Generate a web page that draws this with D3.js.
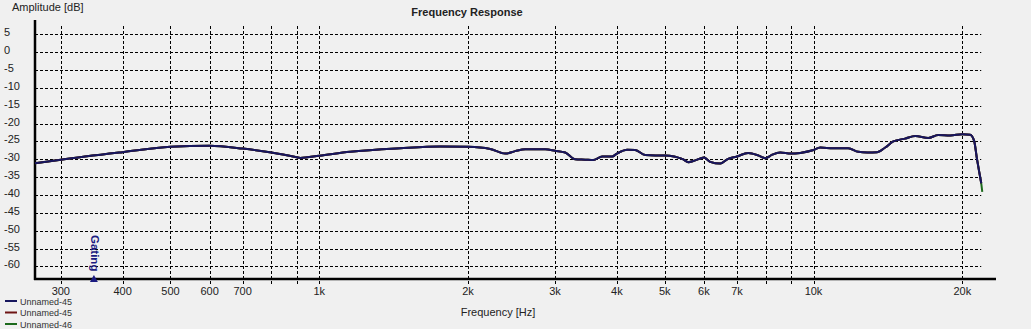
<!DOCTYPE html>
<html>
<head>
<meta charset="utf-8">
<script src="https://cdn.jsdelivr.net/npm/d3@7"></script>
<style>
  body { margin: 0; background: #f0f0f0; }
  text { font-family: "Liberation Sans", Arial, sans-serif; fill: #222; }
</style>
</head>
<body>
<div id="chart"></div>
<script>
// frequency response, values
const freqs = [266, 300, 400, 500, 600, 700, 800, 900, 915, 1000, 1155, 1458, 1757, 2000, 2218, 2378, 2492, 2611, 2866, 3000,
  3145, 3295, 3452, 3583, 3736, 3915, 4000, 4200, 4358, 4566, 4784, 5000, 5251, 5451, 5579, 5764, 6000, 6180, 6476, 6689,
  7000, 7376, 7730, 7986, 8250, 8562, 9000, 9399, 10000, 10318, 10962, 11755, 12318, 12845, 13457, 13968, 14500, 15330, 16063, 17070,
  17880, 18910, 20000, 20750, 21140, 21410, 21640, 21845];
const dbMain = [-31.1, -30.1, -28.0, -26.5, -26.2, -27.0, -28.1, -29.4, -29.6, -29.0, -27.9, -26.9, -26.4, -26.5, -27.1, -28.4, -27.7, -27.2, -27.2, -27.6,
  -28.1, -30.0, -30.1, -30.2, -29.2, -29.2, -28.4, -27.3, -27.4, -28.8, -28.9, -28.9, -29.3, -30.0, -30.8, -30.3, -29.5, -30.7, -31.2, -30.0,
  -29.2, -28.2, -28.9, -29.7, -28.7, -28.1, -28.4, -28.2, -27.4, -26.7, -26.9, -26.9, -27.9, -28.1, -28.0, -26.7, -25.0, -24.2, -23.5, -24.0,
  -23.2, -23.3, -23.0, -23.1, -24.9, -29.8, -33.5, -36.7];
// the other two traces sit under the first one, only the green tail shows
const tailFreqs = [21950];
const tailDb = [-39.1];

const seriesNames = ["Unnamed-45", "Unnamed-45", "Unnamed-46"];
const seriesColors = ["#16165e", "#6e1414", "#1c6a1c"];

const yTicks = [5, 0, -5, -10, -15, -20, -25, -30, -35, -40, -45, -50, -55, -60];
const xGrid = [300, 400, 500, 600, 700, 800, 900, 1000, 2000, 3000, 4000, 5000, 6000, 7000, 8000, 9000, 10000, 20000];
const xLabels = [300, 400, 500, 600, 700, 1000, 2000, 3000, 4000, 5000, 6000, 7000, 10000, 20000];
const gatingFreq = 350;

const width = 1031, height = 329;

const svg = d3.select("#chart").append("svg")
  .attr("width", width)
  .attr("height", height);

const x = d3.scaleLog().domain([266, 23400]).range([35, 996]);
const y = d3.scaleLinear().domain([-63.5, 9]).range([279, 20]);

const gridRight = x(21845);

// grid
svg.append("g").selectAll("line")
  .data(yTicks)
  .enter().append("line")
  .attr("x1", 35).attr("x2", gridRight)
  .attr("y1", d => Math.round(y(d)) + 0.5).attr("y2", d => Math.round(y(d)) + 0.5)
  .attr("stroke", "#000").attr("stroke-width", 1).attr("stroke-dasharray", "3,2");

svg.append("g").selectAll("line")
  .data(xGrid)
  .enter().append("line")
  .attr("x1", d => Math.round(x(d)) + 0.5).attr("x2", d => Math.round(x(d)) + 0.5)
  .attr("y1", 26).attr("y2", 284)
  .attr("stroke", "#000").attr("stroke-width", 1).attr("stroke-dasharray", "3,2");

// axes lines
svg.append("line").attr("x1", 35).attr("x2", 35).attr("y1", 20).attr("y2", 280)
  .attr("stroke", "#000").attr("stroke-width", 2.5);
svg.append("line").attr("x1", 34).attr("x2", 996).attr("y1", 279).attr("y2", 279)
  .attr("stroke", "#000").attr("stroke-width", 2.5);

// tick labels
svg.append("g").selectAll("text")
  .data(yTicks)
  .enter().append("text")
  .attr("x", 4).attr("y", d => y(d) + 2)
  .attr("font-size", 11)
  .text(d => d);

svg.append("g").selectAll("text")
  .data(xLabels)
  .enter().append("text")
  .attr("x", d => x(d)).attr("y", 295)
  .attr("text-anchor", "middle")
  .attr("font-size", 11)
  .text(d => d >= 1000 ? (d / 1000) + "k" : d);

// titles
svg.append("text").attr("x", 12).attr("y", 11).attr("font-size", 11).text("Amplitude [dB]");
svg.append("text").attr("x", 467).attr("y", 16).attr("font-size", 11).attr("font-weight", "bold")
  .attr("text-anchor", "middle").text("Frequency Response");
svg.append("text").attr("x", 498).attr("y", 316).attr("font-size", 11)
  .attr("text-anchor", "middle").text("Frequency [Hz]");

// curves
const pts = freqs.map((f, i) => [f, dbMain[i]]);
const greenPts = pts.concat(tailFreqs.map((f, i) => [f, tailDb[i]]));
const line = d3.line().x(d => x(d[0])).y(d => y(d[1])).curve(d3.curveMonotoneX);

svg.append("path").datum(greenPts).attr("d", line)
  .attr("fill", "none").attr("stroke", seriesColors[2]).attr("stroke-width", 2);
svg.append("path").datum(pts).attr("d", line)
  .attr("fill", "none").attr("stroke", seriesColors[1]).attr("stroke-width", 2);
svg.append("path").datum(pts).attr("d", line)
  .attr("fill", "none").attr("stroke", seriesColors[0]).attr("stroke-width", 2);

// gating marker
const gx = x(gatingFreq);
svg.append("path")
  .attr("d", `M${gx - 4},282 L${gx},275 L${gx + 4},282 Z`)
  .attr("fill", "#1a1a80");
svg.append("text")
  .attr("transform", `translate(${gx - 2.5},235) rotate(90)`)
  .attr("font-size", 11.5).attr("font-weight", "bold")
  .style("fill", "#1a1a80")
  .text("Gating");

// legend
const legend = svg.append("g").selectAll("g")
  .data(seriesNames)
  .enter().append("g")
  .attr("transform", (d, i) => `translate(0,${301 + i * 11.5})`);
legend.append("line").attr("x1", 5).attr("x2", 17).attr("y1", 0).attr("y2", 0)
  .attr("stroke", (d, i) => seriesColors[i]).attr("stroke-width", 2);
legend.append("text").attr("x", 20).attr("y", 3.5).attr("font-size", 9)
  .style("fill", "#333")
  .text(d => d);
</script>
</body>
</html>
